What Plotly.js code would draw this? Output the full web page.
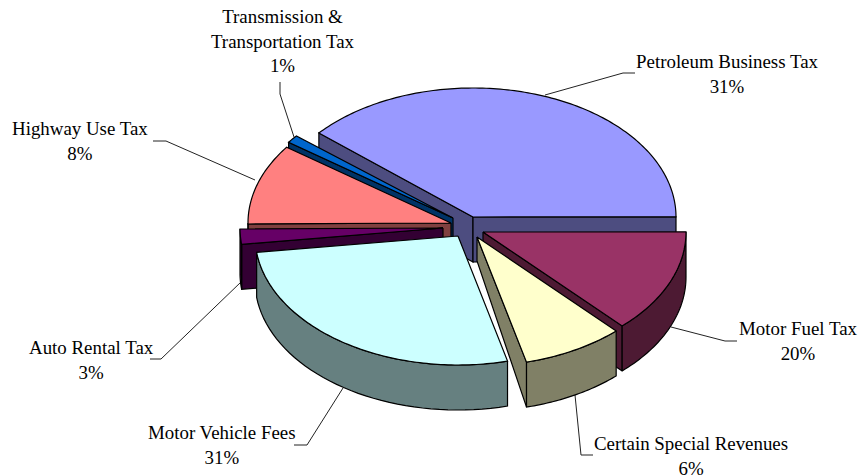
<!DOCTYPE html>
<html><head><meta charset="utf-8">
<script src="https://cdn.plot.ly/plotly-3.0.1.min.js"></script>
<style>html,body{margin:0;padding:0;background:#fff}#c{width:858px;height:476px}</style>
</head><body><div id="c"></div>
<script>
// data
const categories = ["Petroleum Business Tax","Motor Fuel Tax","Certain Special Revenues","Motor Vehicle Fees","Auto Rental Tax","Highway Use Tax","Transmission & Transportation Tax"];
const percentLabels = [31,20,6,31,3,8,1];
const drawnShare = [38.7,13.0,8.1,26.9,1.9,10.1,1.0];   // share of the circle as actually drawn
const topColors = ["#9999FF","#993366","#FFFFCC","#CCFFFF","#660066","#FF8080","#0066CC"];
const sideColors = ["#4D4D80","#4D1A33","#808066","#668080","#330033","#804040","#003366"];
// layout config
const apexX = [473,483,477,458,443,451,453];
const apexY = [217,232,237,236,228,223,218];
const apexDepth = [45,45,24,45,45,45,45];
const paintOrder = [0,6,5,4,1,2,3];
const labelText = ["Petroleum Business Tax","Motor Fuel Tax","Certain Special Revenues","Motor Vehicle Fees","Auto Rental Tax","Highway Use Tax","Transmission &<br>Transportation Tax"];
const labelX = [727,798,691,222,91,80,283];
const labelY = [74,341,456,445,360,141,41];
const leaderX = [[635,623,545],[737,725,671],[593,581,575],[294,307,343],[150,161,241],[153,166,255],[280,280,294]];
const leaderY = [[73,73,95],[341,341,327],[455,455,395],[445,445,388],[359,359,282],[141,141,180],[82,94,137]];
const RX=203, RY=129, DEPTH=45, START=-139.4;

const traces=[];
function poly(xs,ys,fill){traces.push({type:'scatter',mode:'lines',x:xs.concat(xs[0]),y:ys.concat(ys[0]),fill:'toself',fillcolor:fill,line:{color:'#000',width:1.2,simplify:false},hoverinfo:'skip'});}
leaderX.forEach((lx,i)=>traces.push({type:'scatter',mode:'lines',x:lx,y:leaderY[i],line:{color:'#222',width:1},hoverinfo:'skip'}));

const starts=[];let acc=START;
drawnShare.forEach(s=>{starts.push(acc);acc+=s*3.6;});
const rad=d=>d*Math.PI/180;
paintOrder.forEach(i=>{
  const a=starts[i],b=a+drawnShare[i]*3.6,cx=apexX[i],cy=apexY[i];
  const pt=t=>[cx+RX*Math.cos(rad(t)),cy+RY*Math.sin(rad(t))];
  const wall=t=>{const p=pt(t);poly([cx,p[0],p[0],cx],[cy,p[1],p[1]+DEPTH,cy+apexDepth[i]],sideColors[i]);};
  const sVis=Math.cos(rad(a))<0, eVis=Math.cos(rad(b))>0;
  if(sVis) wall(a);
  if(eVis) wall(b);
  const r0=Math.max(a,0), r1=Math.min(b,180);
  if(r1>r0 && a>=-1){
    const xs=[],ys=[];const n=40;
    for(let k=0;k<=n;k++){const p=pt(r0+(r1-r0)*k/n);xs.push(p[0]);ys.push(p[1]);}
    for(let k=n;k>=0;k--){const p=pt(r0+(r1-r0)*k/n);xs.push(p[0]);ys.push(p[1]+DEPTH);}
    poly(xs,ys,sideColors[i]);
  }
  const xs=[cx],ys=[cy];const n=Math.max(6,Math.round((b-a)));
  for(let k=0;k<=n;k++){const p=pt(a+(b-a)*k/n);xs.push(p[0]);ys.push(p[1]);}
  poly(xs,ys,topColors[i]);
});

const font={family:'"Liberation Serif","Times New Roman",serif',size:18.9,color:'#000'};
const annotations=categories.map((c,i)=>({xref:'x',yref:'y',x:labelX[i],y:labelY[i],xanchor:'center',yanchor:'middle',align:'center',showarrow:false,font:font,
  text:labelText[i]+'<br>'+percentLabels[i]+'%'}));

Plotly.newPlot('c',traces,{
  width:858,height:476,margin:{l:0,r:0,t:0,b:0},showlegend:false,paper_bgcolor:'#fff',plot_bgcolor:'#fff',
  xaxis:{range:[0,858],visible:false,fixedrange:true},
  yaxis:{range:[476,0],visible:false,fixedrange:true},
  annotations:annotations
},{displayModeBar:false,staticPlot:true});
</script></body></html>
